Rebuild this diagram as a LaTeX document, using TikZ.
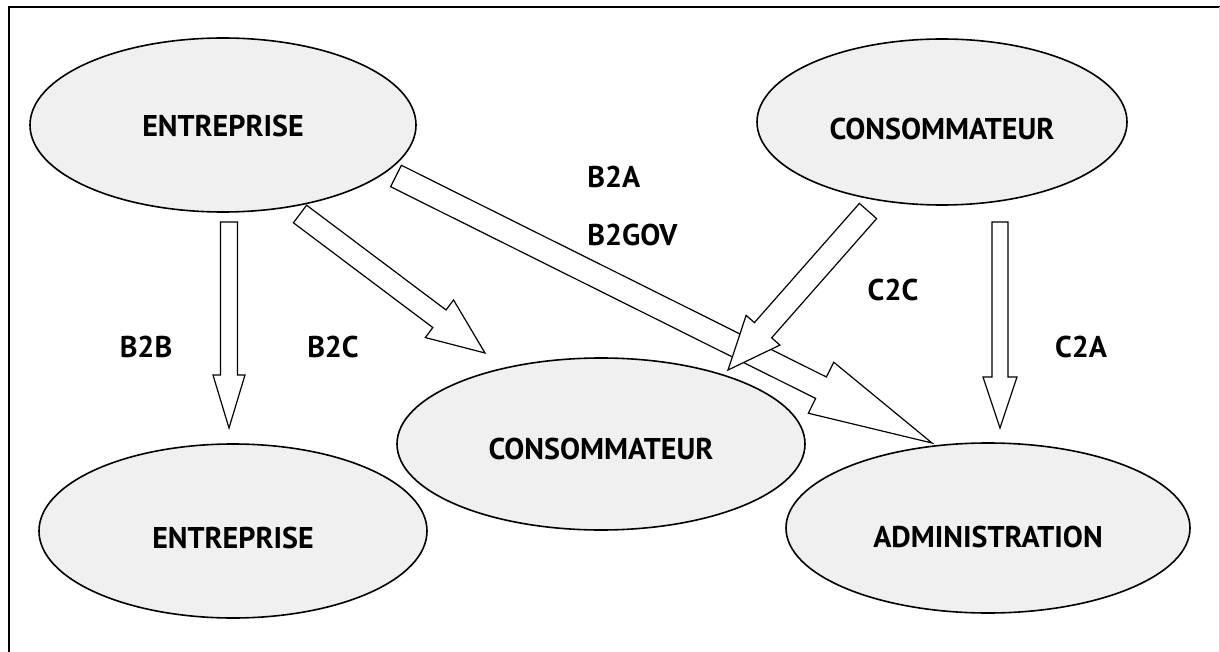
\documentclass[tikz,border=0pt]{standalone}
\usepackage{fontspec}
\setmainfont{PT Sans}
\usetikzlibrary{shapes.geometric,calc,positioning}

\definecolor{ellgray}{HTML}{F0F0F0}

% hollow block arrow: tail, tip, half shaft, half head, head length
\newcommand\blockarrow[5]{%
  \coordinate (ba) at ($(#2)!#5!(#1)$);
  \draw[block arrow] ($(#1)!#3!90:(#2)$) -- ($(ba)!#3!90:(#2)$)
    -- ($(ba)!#4!90:(#2)$) -- (#2) -- ($(ba)!#4!-90:(#2)$)
    -- ($(ba)!#3!-90:(#2)$) -- ($(#1)!#3!-90:(#2)$) -- cycle;
}

\begin{document}
\begin{tikzpicture}[x=0.5pt,y=-0.5pt,
                    main node/.style={ellipse,draw,fill=ellgray,line width=0.8pt,inner sep=0pt,
                                      font=\bfseries\fontsize{15}{18}\selectfont},
                    block arrow/.style={draw,fill=white,line width=0.6pt,line join=miter},
                    flow label/.style={font=\bfseries\fontsize{15}{18}\selectfont,inner sep=0pt}]

  \useasboundingbox (0,0) rectangle (1220,652);
  \draw[line width=1.1pt] (9,652) -- (9,7) -- (1220,7);
  \draw[black!15,line width=0.4pt] (1219,7) -- (1219,652);

  \node[main node,minimum width=193pt,minimum height=87pt,text height=11.5pt] (e1) at (223,125) {ENTREPRISE};
  \node[main node,minimum width=185pt,minimum height=83pt,text height=17.5pt] (c1) at (942,122) {CONSOMMATEUR};
  \node[main node,minimum width=204pt,minimum height=86pt,text height=15.5pt] (c2) at (601,444) {CONSOMMATEUR};
  \node[main node,minimum width=194pt,minimum height=87pt,text height=17.5pt] (e2) at (233,531) {ENTREPRISE};
  \node[main node,minimum width=202pt,minimum height=85pt,text height=19.5pt] (a)  at (988,528) {ADMINISTRATION};

  \coordinate (b2b-s) at (229,222);  \coordinate (b2b-e) at (229,428);
  \coordinate (b2c-s) at (300,214);  \coordinate (b2c-e) at (485,353);
  \coordinate (b2a-s) at (396,176);  \coordinate (b2a-e) at (932,443);
  \coordinate (c2c-s) at (868,211);  \coordinate (c2c-e) at (728,370);
  \coordinate (c2a-s) at (1000,222); \coordinate (c2a-e) at (1000,428);

  \blockarrow{b2b-s}{b2b-e}{4.25pt}{8pt}{26.5pt}
  \blockarrow{b2c-s}{b2c-e}{5.5pt}{11.75pt}{28.5pt}
  \blockarrow{b2a-s}{b2a-e}{6pt}{14.25pt}{62pt}
  \blockarrow{c2c-s}{c2c-e}{5.75pt}{11.25pt}{26.5pt}
  \blockarrow{c2a-s}{c2a-e}{4pt}{8.5pt}{25.5pt}

  \node[flow label] (b2b) at (146,347) {B2B};
  \node[flow label] (b2c) at (333,347) {B2C};
  \node[flow label,anchor=west] (b2a) at (587,177) {B2A};
  \node[flow label,anchor=west] (b2gov) at (587,235) {B2GOV};
  \node[flow label] (c2c) at (893,290) {C2C};
  \node[flow label] (c2a) at (1081,347) {C2A};

\end{tikzpicture}
\end{document}
